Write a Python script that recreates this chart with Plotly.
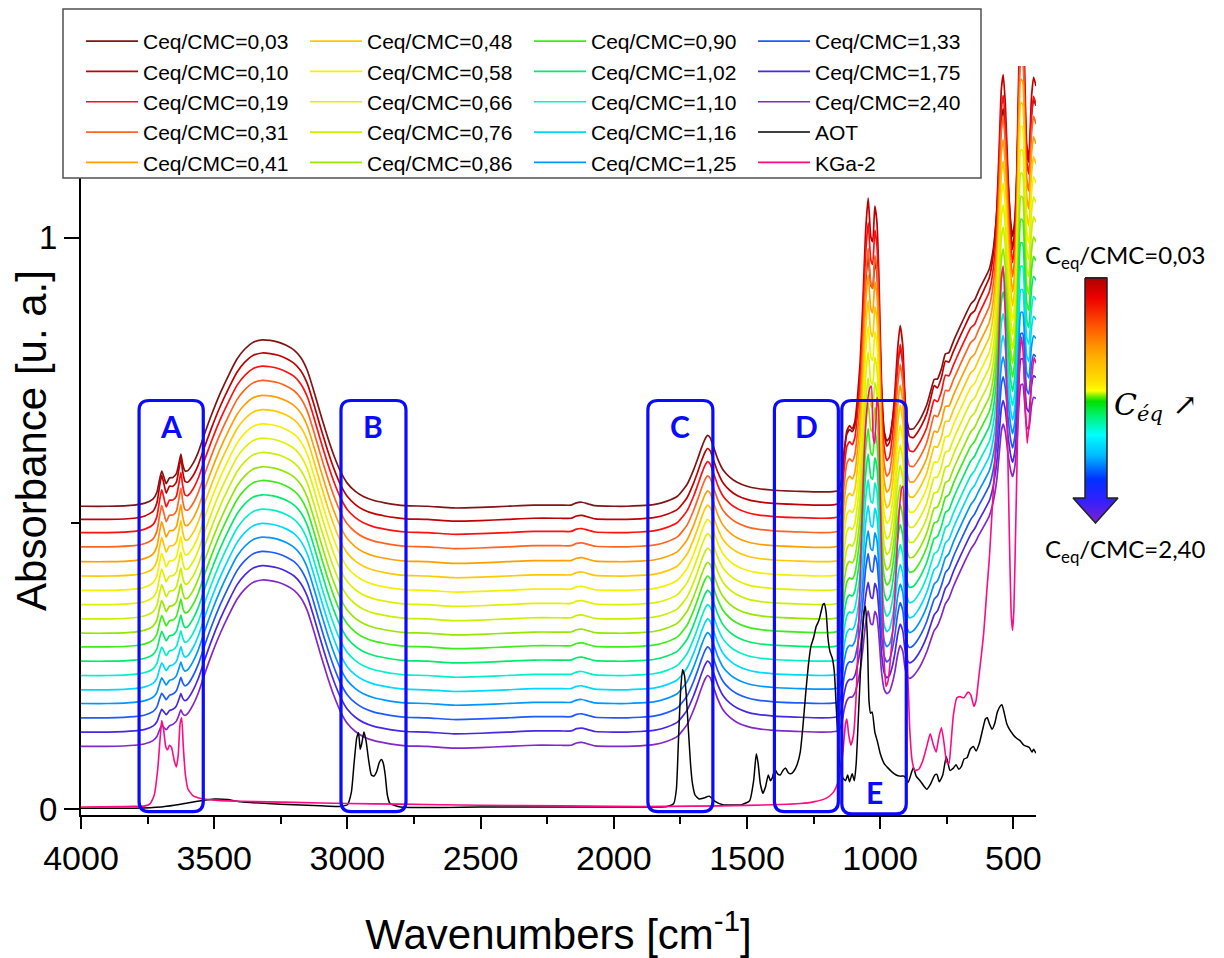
import plotly.graph_objects as go

# ---------------- data ----------------
conc_labels = ["0,03", "0,10", "0,19", "0,31", "0,41", "0,48", "0,58", "0,66", "0,76",
               "0,86", "0,90", "1,02", "1,10", "1,16", "1,25", "1,33", "1,75", "2,40"]
series_colors = ["#7f1515", "#c00000", "#ff1010", "#ff6420", "#ffa000", "#ffc800",
                 "#f5f000", "#e0f000", "#c8f000", "#96e600", "#3ced1a", "#00eb6e",
                 "#00f0c8", "#00d8ff", "#0096ff", "#1e5aff", "#4628e6", "#8228c8"]
# absorbance level of each clay/AOT spectrum at 4000 cm-1
offsets = [0.530, 0.507, 0.484, 0.459, 0.433, 0.408, 0.383, 0.358, 0.333,
           0.308, 0.284, 0.259, 0.234, 0.209, 0.185, 0.160, 0.135, 0.110]
# relative intensity of the kaolinite bands in each spectrum
kaolinite_scale = [0.75, 1.00, 0.96, 0.92, 0.88, 0.84, 0.80, 0.76, 0.72,
                   0.68, 0.64, 0.60, 0.56, 0.52, 0.48, 0.45, 0.40, 0.35]

# common profile of the mixed spectra (relative to their level at 4000 cm-1)
wn_grid = [4000, 3900, 3800, 3760, 3730, 3715, 3705, 3697, 3690, 3680, 3668, 3655, 3642, 3632,
           3625, 3618, 3610, 3600, 3580, 3560, 3540, 3510, 3478, 3445, 3415, 3385, 3353, 3320,
           3290, 3260, 3228, 3200, 3175, 3150, 3125, 3100, 3075, 3050, 3025, 3000, 2970, 2940,
           2900, 2860, 2820, 2780, 2700, 2600, 2500, 2400, 2300, 2200, 2160, 2140, 2120, 2095,
           2070, 2000, 1950, 1900, 1850, 1800, 1760, 1725, 1700, 1685, 1670, 1658, 1648, 1638,
           1625, 1610, 1590, 1565, 1537, 1500, 1460, 1400, 1300, 1220, 1170, 1155, 1145, 1135,
           1125, 1115, 1105, 1095, 1085, 1075, 1065, 1055, 1045, 1035, 1028, 1020, 1012, 1005,
           995, 985, 975, 965, 955, 945, 935, 925, 915, 908, 900, 890, 875, 860, 845, 825,
           810, 797, 785, 770, 755, 742, 725, 700, 680, 660, 645, 630, 610, 590, 575, 562,
           552, 545, 538, 530, 520, 510, 503, 495, 487, 480, 472, 465, 458, 450, 442, 432,
           424, 415]
base_rel = [0.000, 0.000, 0.002, 0.004, 0.008, 0.011, 0.013, 0.015, 0.017, 0.020, 0.024, 0.028, 0.033, 0.037,
            0.040, 0.043, 0.047, 0.053, 0.070, 0.092, 0.120, 0.160, 0.197, 0.230, 0.257, 0.275, 0.287, 0.291,
            0.290, 0.287, 0.281, 0.273, 0.260, 0.237, 0.200, 0.160, 0.122, 0.088, 0.060, 0.040, 0.026, 0.017,
            0.010, 0.006, 0.003, 0.001, 0.000, -0.003, -0.002, 0.000, 0.002, 0.002, 0.002, 0.006, 0.007, 0.004,
            0.001, 0.000, 0.000, 0.001, 0.003, 0.009, 0.018, 0.038, 0.064, 0.083, 0.103, 0.117, 0.124, 0.120,
            0.103, 0.083, 0.064, 0.051, 0.042, 0.035, 0.031, 0.028, 0.026, 0.025, 0.026, 0.028, 0.032, 0.036,
            0.040, 0.044, 0.048, 0.051, 0.054, 0.056, 0.058, 0.060, 0.062, 0.064, 0.066, 0.068, 0.069, 0.070,
            0.071, 0.072, 0.073, 0.075, 0.078, 0.081, 0.085, 0.089, 0.093, 0.096, 0.100, 0.105, 0.113, 0.122, 0.134, 0.155,
            0.172, 0.186, 0.200, 0.218, 0.235, 0.250, 0.272, 0.298, 0.318, 0.337, 0.350, 0.362, 0.377, 0.393, 0.410, 0.425,
            0.437, 0.443, 0.448, 0.455, 0.462, 0.468, 0.472, 0.477, 0.482, 0.487, 0.492, 0.497, 0.502, 0.507, 0.512, 0.518,
            0.523, 0.528]
kao_rel = [0.000, 0.000, 0.000, 0.002, 0.006, 0.018, 0.045, 0.062, 0.048, 0.026, 0.034, 0.030, 0.032, 0.052,
           0.068, 0.040, 0.020, 0.012, 0.006, 0.003, 0.002, 0.000, 0.000, 0.000, 0.000, 0.000, 0.000, 0.000,
           0.000, 0.000, 0.000, 0.000, 0.000, 0.000, 0.000, 0.000, 0.000, 0.000, 0.000, 0.000, 0.000, 0.000,
           0.000, 0.000, 0.000, 0.000, 0.000, 0.000, 0.000, 0.000, 0.000, 0.000, 0.000, 0.000, 0.000, 0.000,
           0.000, 0.000, 0.000, 0.000, 0.000, 0.000, 0.000, 0.000, 0.000, 0.000, 0.000, 0.000, 0.000, 0.000,
           0.000, 0.000, 0.000, 0.000, 0.000, 0.000, 0.000, 0.000, 0.000, 0.000, 0.000, 0.000, 0.020, 0.080,
           0.115, 0.120, 0.110, 0.120, 0.160, 0.220, 0.320, 0.440, 0.500, 0.430, 0.420, 0.480, 0.450, 0.360,
           0.170, 0.080, 0.055, 0.060, 0.090, 0.140, 0.210, 0.250, 0.210, 0.130, 0.070, 0.040, 0.030, 0.030, 0.030, 0.030,
           0.040, 0.048, 0.030, 0.030, 0.042, 0.025, 0.022, 0.022, 0.022, 0.022, 0.015, 0.020, 0.025, 0.030, 0.055, 0.120,
           0.230, 0.310, 0.330, 0.270, 0.140, 0.040, 0.000, 0.030, 0.130, 0.290, 0.400, 0.390, 0.290, 0.150, 0.120, 0.220,
           0.250, 0.230]

# KGa-2 (kaolinite) reference spectrum
kga_wn = [4000, 3800, 3760, 3740, 3725, 3712, 3702, 3697, 3690, 3682, 3675, 3668, 3660, 3650, 3642,
          3635, 3628, 3622, 3616, 3608, 3598, 3580, 3550, 3500, 3400, 3200, 3000, 2800, 2500, 2200,
          2000, 1800, 1600, 1400, 1300, 1250, 1200, 1175, 1160, 1150, 1140, 1130, 1125, 1118, 1110,
          1100, 1090, 1080, 1070, 1060, 1050, 1040, 1033, 1026, 1020, 1012, 1006, 1000, 992, 985,
          978, 970, 960, 950, 940, 930, 920, 914, 908, 900, 890, 880, 870, 855, 840, 825, 812, 800,
          790, 780, 770, 760, 750, 742, 735, 725, 712, 700, 686, 670, 660, 648, 640, 630, 620, 611,
          600, 590, 580, 570, 560, 552, 545, 538, 530, 522, 515, 508, 503, 498, 490, 482, 475, 469,
          462, 455, 448, 440, 430, 422, 415]
kga_abs = [0.004, 0.005, 0.006, 0.010, 0.025, 0.070, 0.130, 0.155, 0.140, 0.110, 0.104, 0.112, 0.108, 0.085, 0.074,
           0.095, 0.150, 0.160, 0.110, 0.060, 0.035, 0.024, 0.019, 0.016, 0.014, 0.012, 0.010, 0.009, 0.007, 0.006,
           0.005, 0.005, 0.006, 0.008, 0.010, 0.013, 0.020, 0.030, 0.045, 0.065, 0.100, 0.150, 0.158, 0.130, 0.112,
           0.130, 0.200, 0.330, 0.480, 0.620, 0.700, 0.735, 0.740, 0.650, 0.640, 0.720, 0.700, 0.560, 0.380, 0.260,
           0.215, 0.225, 0.270, 0.330, 0.420, 0.510, 0.560, 0.565, 0.470, 0.300, 0.150, 0.085, 0.068, 0.070, 0.085, 0.110, 0.132, 0.112,
           0.100, 0.125, 0.143, 0.115, 0.082, 0.080, 0.110, 0.165, 0.195, 0.197, 0.195, 0.205, 0.200, 0.180, 0.190, 0.230, 0.270, 0.310,
           0.380, 0.440, 0.520, 0.600, 0.720, 0.850, 0.930, 0.950, 0.860, 0.650, 0.480, 0.340, 0.313, 0.350, 0.520, 0.700, 0.800, 0.826,
           0.790, 0.700, 0.640, 0.680, 0.760, 0.790, 0.780]

# AOT reference spectrum
aot_wn = [4000, 3800, 3700, 3650, 3600, 3550, 3500, 3450, 3400, 3300, 3200, 3100, 3030, 3000, 2985,
          2975, 2965, 2958, 2952, 2946, 2938, 2930, 2920, 2910, 2900, 2890, 2880, 2872, 2865, 2858,
          2850, 2840, 2800, 2500, 2200, 2000, 1800, 1775, 1765, 1758, 1750, 1742, 1735, 1728, 1720,
          1712, 1705, 1695, 1680, 1660, 1642, 1620, 1590, 1520, 1490, 1475, 1465, 1458, 1450, 1440,
          1430, 1420, 1412, 1405, 1395, 1385, 1375, 1365, 1355, 1345, 1335, 1325, 1312, 1300, 1290,
          1280, 1270, 1260, 1250, 1240, 1230, 1222, 1215, 1210, 1203, 1196, 1188, 1180, 1172, 1165,
          1158, 1150, 1140, 1130, 1122, 1115, 1105, 1097, 1090, 1080, 1070, 1062, 1055, 1048, 1042,
          1036, 1030, 1020, 1010, 1000, 985, 970, 955, 940, 925, 910, 895, 882, 875, 865, 850, 835,
          825, 810, 795, 787, 778, 765, 752, 745, 738, 725, 715, 705, 695, 685, 674, 662, 650, 640,
          628, 615, 605, 598, 590, 580, 570, 560, 550, 543, 535, 525, 515, 500, 490, 475, 460, 449,
          440, 430, 424, 415]
aot_abs = [0.002, 0.002, 0.004, 0.007, 0.011, 0.015, 0.018, 0.017, 0.013, 0.010, 0.008, 0.006, 0.005, 0.008, 0.030,
           0.080, 0.125, 0.134, 0.105, 0.115, 0.135, 0.120, 0.085, 0.060, 0.058, 0.066, 0.082, 0.087, 0.080, 0.060,
           0.025, 0.010, 0.004, 0.004, 0.004, 0.004, 0.005, 0.010, 0.035, 0.110, 0.200, 0.244, 0.235, 0.200, 0.140,
           0.080, 0.046, 0.025, 0.018, 0.020, 0.023, 0.014, 0.008, 0.008, 0.015, 0.050, 0.097, 0.080, 0.045, 0.028,
           0.040, 0.060, 0.050, 0.055, 0.070, 0.062, 0.060, 0.068, 0.072, 0.064, 0.062, 0.066, 0.078, 0.100, 0.145,
           0.200, 0.250, 0.285, 0.300, 0.320, 0.330, 0.345, 0.358, 0.360, 0.345, 0.300, 0.275, 0.265, 0.240, 0.180,
           0.120, 0.075, 0.055, 0.050, 0.060, 0.048, 0.062, 0.050, 0.080, 0.180, 0.280, 0.340, 0.355, 0.300, 0.190,
           0.168, 0.170, 0.135, 0.118, 0.098, 0.080, 0.072, 0.065, 0.060, 0.058, 0.058, 0.047, 0.065, 0.073, 0.058, 0.050, 0.040,
           0.035, 0.045, 0.060, 0.061, 0.048, 0.060, 0.092, 0.080, 0.068, 0.072, 0.078, 0.070, 0.075, 0.088, 0.090, 0.105, 0.110, 0.102,
           0.115, 0.140, 0.158, 0.160, 0.150, 0.140, 0.150, 0.170, 0.180, 0.183, 0.170, 0.150, 0.140, 0.130, 0.125, 0.120, 0.112, 0.110,
           0.108, 0.100, 0.105, 0.098]

# highlighted band regions (wavenumber limits) and their letters
box_labels = ["A", "B", "C", "D", "E"]
box_left_wn = [3782, 3024, 1872, 1397, 1144]
box_right_wn = [3541, 2780, 1628, 1157, 902]

assert len(wn_grid) == len(base_rel) == len(kao_rel), (len(wn_grid), len(base_rel), len(kao_rel))
assert len(kga_wn) == len(kga_abs), (len(kga_wn), len(kga_abs))
assert len(aot_wn) == len(aot_abs), (len(aot_wn), len(aot_abs))

# ---------------- layout geometry (screen pixels) ----------------
PAGE_PAD = 8                       # default margin of the html body
W, H = 1224 - PAGE_PAD, 958 - PAGE_PAD
ML, MR, MT, MB = 81 - PAGE_PAD, 0, 66 - PAGE_PAD, 958 - 815
PW, PH = W - ML - MR, H - MT - MB
PLOT_RIGHT = 1036


def px_x(p):
    return (p - PAGE_PAD - ML) / PW


def px_y(p):
    return (H - MB - (p - PAGE_PAD)) / PH


AX_FONT = "Liberation Sans, Arial, sans-serif"
LEG_FONT = "Liberation Sans, Arial, sans-serif"

fig = go.Figure()

legend_ids = ["legend"] * 5 + ["legend2"] * 5 + ["legend3"] * 5 + ["legend4"] * 3
for i, lab in enumerate(conc_labels):
    y = [offsets[i] + b + kaolinite_scale[i] * k for b, k in zip(base_rel, kao_rel)]
    fig.add_trace(go.Scatter(
        x=wn_grid, y=y, mode="lines", name="Ceq/CMC=" + lab,
        line=dict(color=series_colors[i], width=1.7, shape="spline", smoothing=0.5),
        legend=legend_ids[i], hoverinfo="skip"))

fig.add_trace(go.Scatter(x=aot_wn, y=aot_abs, mode="lines", name="AOT",
                         line=dict(color="black", width=1.5, shape="spline", smoothing=0.5),
                         legend="legend4", hoverinfo="skip"))
fig.add_trace(go.Scatter(x=kga_wn, y=kga_abs, mode="lines", name="KGa-2",
                         line=dict(color="#ff0a82", width=1.6, shape="spline", smoothing=0.5),
                         legend="legend4", hoverinfo="skip"))

# ---------------- gradient arrow (concentration direction) ----------------
ARROW_LEN, HEAD_H, HEAD_W, BODY_L, BODY_R = 245, 25, 45, 12, 34
grad_y = [ARROW_LEN * j / 60 for j in range(61)]
grad_z = [[(ARROW_LEN - v) / ARROW_LEN] * 2 for v in grad_y]
arrow_scale = [[0.0, "#b00000"], [0.08, "#ee0000"], [0.20, "#ff5a00"], [0.32, "#ffb000"],
               [0.42, "#ffe000"], [0.46, "#ffff00"], [0.50, "#00e000"], [0.55, "#00f060"],
               [0.64, "#00ffff"], [0.72, "#00bbff"], [0.82, "#0030ff"], [0.90, "#3020ff"],
               [1.0, "#8020d0"]]
fig.add_trace(go.Heatmap(x=[BODY_L - 2, HEAD_W - BODY_L + 2], y=grad_y, z=grad_z, colorscale=arrow_scale,
                         zmin=0, zmax=1, zsmooth="best", showscale=False,
                         xaxis="x2", yaxis="y2", hoverinfo="skip", showlegend=False))
mid = HEAD_W / 2
fig.add_trace(go.Scatter(x=[-30, mid, mid, 0, BODY_L, BODY_L, -30, -30],
                         y=[-30, -30, 0, HEAD_H, HEAD_H, ARROW_LEN + 30, ARROW_LEN + 30, -30],
                         fill="toself", fillcolor="white", mode="none",
                         xaxis="x2", yaxis="y2", hoverinfo="skip", showlegend=False))
fig.add_trace(go.Scatter(x=[HEAD_W + 30, mid, mid, HEAD_W, BODY_R, BODY_R, HEAD_W + 30, HEAD_W + 30],
                         y=[-30, -30, 0, HEAD_H, HEAD_H, ARROW_LEN + 30, ARROW_LEN + 30, -30],
                         fill="toself", fillcolor="white", mode="none",
                         xaxis="x2", yaxis="y2", hoverinfo="skip", showlegend=False))
fig.add_trace(go.Scatter(x=[BODY_L, BODY_R, BODY_R, HEAD_W, mid, 0, BODY_L, BODY_L],
                         y=[ARROW_LEN, ARROW_LEN, HEAD_H, HEAD_H, 0, HEAD_H, HEAD_H, ARROW_LEN],
                         mode="lines", line=dict(color="#222222", width=1.5),
                         xaxis="x2", yaxis="y2", hoverinfo="skip", showlegend=False))

# ---------------- shapes ----------------
shapes = []
# legend frame
shapes.append(dict(type="rect", xref="paper", yref="paper",
                   x0=px_x(63), x1=px_x(981), y0=px_y(9), y1=px_y(178),
                   line=dict(color="#505050", width=1.5), fillcolor="white", layer="above"))
# rounded blue boxes
y_top, y_bot = 0.715, -0.004
dx, dy = 37.5, 0.0175
for k, (xl, xr) in enumerate(zip(box_left_wn, box_right_wn)):
    yb = y_bot - (0.004 if box_labels[k] == "E" else 0.0)
    path = (f"M {xl - dx},{y_top} L {xr + dx},{y_top} Q {xr},{y_top} {xr},{y_top - dy} "
            f"L {xr},{yb + dy} Q {xr},{yb} {xr + dx},{yb} L {xl - dx},{yb} "
            f"Q {xl},{yb} {xl},{yb + dy} L {xl},{y_top - dy} Q {xl},{y_top} {xl - dx},{y_top} Z")
    shapes.append(dict(type="path", xref="x", yref="y", path=path,
                       line=dict(color="#0a0aff", width=3.2), layer="above"))

annotations = []
for k, lab in enumerate(box_labels):
    xc = (box_left_wn[k] + box_right_wn[k]) / 2
    yc = 0.670 if lab != "E" else 0.030
    annotations.append(dict(x=xc, y=yc, xref="x", yref="y", text="<b>" + lab + "</b>",
                            showarrow=False, font=dict(family="Lato, Open Sans, sans-serif",
                                                       size=30, color="#0a0aff")))
annotations.append(dict(x=px_x(1043), y=px_y(257), xref="paper", yref="paper",
                        xanchor="left", yanchor="middle",
                        text="C<sub>eq</sub>/CMC=0,03", showarrow=False,
                        font=dict(family="Lato, Open Sans, sans-serif", size=24, color="black")))
annotations.append(dict(x=px_x(1043), y=px_y(550), xref="paper", yref="paper",
                        xanchor="left", yanchor="middle",
                        text="C<sub>eq</sub>/CMC=2,40", showarrow=False,
                        font=dict(family="Lato, Open Sans, sans-serif", size=24, color="black")))
annotations.append(dict(x=px_x(1112), y=px_y(406), xref="paper", yref="paper",
                        xanchor="left", yanchor="middle",
                        text="<i>C</i><sub><i>éq</i></sub> ↗", showarrow=False,
                        font=dict(family="DejaVu Serif, Liberation Serif, serif", size=30, color="black")))

# ---------------- legends (4 columns) ----------------
leg_common = dict(xref="paper", yref="paper", xanchor="left", yanchor="top",
                  bgcolor="rgba(0,0,0,0)", borderwidth=0, tracegroupgap=0, itemwidth=52,
                  font=dict(family=LEG_FONT, size=21, color="black"))
col_text_x = [144, 368, 592, 816]
legends = {}
for c, name in enumerate(["legend", "legend2", "legend3", "legend4"]):
    legends[name] = dict(x=px_x(col_text_x[c] - 63), y=px_y(21), **leg_common)

fig.update_layout(
    width=W, height=H, autosize=False,
    margin=dict(l=ML, r=MR, t=MT, b=MB, autoexpand=False),
    paper_bgcolor="white", plot_bgcolor="white",
    showlegend=True,
    xaxis=dict(domain=[0, px_x(PLOT_RIGHT)], range=[4000, 415], autorange=False,
               tickmode="linear", tick0=0, dtick=500, ticks="outside", ticklen=12, tickwidth=2,
               tickcolor="black", showline=True, linewidth=2, linecolor="black",
               showgrid=False, zeroline=False,
               minor=dict(tickmode="linear", tick0=0, dtick=250, ticks="outside", ticklen=7,
                          tickwidth=2, tickcolor="black", showgrid=False),
               tickfont=dict(family=AX_FONT, size=34, color="black"),
               title=dict(text="Wavenumbers [cm<sup>-1</sup>]", standoff=44,
                          font=dict(family=AX_FONT, size=42, color="black"))),
    yaxis=dict(domain=[0, 1], range=[-0.01, 1.30], autorange=False,
               tickmode="linear", tick0=0, dtick=1, ticks="outside", ticklen=15, tickwidth=2,
               tickcolor="black", showline=True, linewidth=2, linecolor="black",
               showgrid=False, zeroline=False,
               minor=dict(tickmode="linear", tick0=0, dtick=0.5, ticks="outside", ticklen=8,
                          tickwidth=2, tickcolor="black", showgrid=False),
               tickfont=dict(family=AX_FONT, size=33, color="black"),
               title=dict(text="Absorbance [u. a.]", standoff=0,
                          font=dict(family=AX_FONT, size=42, color="black"))),
    xaxis2=dict(domain=[px_x(1072), px_x(1119)], range=[-1, 46], visible=False,
                anchor="y2", fixedrange=True),
    yaxis2=dict(domain=[px_y(524), px_y(277)], range=[-1, 246], visible=False,
                anchor="x2", fixedrange=True),
    shapes=shapes, annotations=annotations,
    **legends,
)

fig.write_html("out.html")
